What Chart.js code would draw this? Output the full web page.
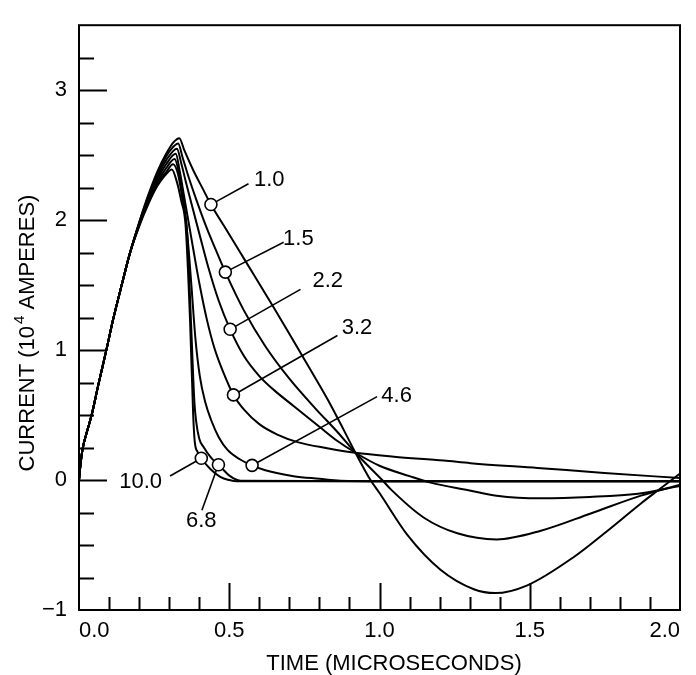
<!DOCTYPE html>
<html>
<head>
<meta charset="utf-8">
<script src="https://cdn.jsdelivr.net/npm/chart.js@4"></script>
<style>
html, body { margin: 0; padding: 0; background: #fff; }
canvas { display: block; }
</style>
</head>
<body>
<canvas id="chart" width="696" height="675"></canvas>
<script>
// curve labels (10^4 A vs microseconds)
var curve_names = ['1.0', '1.5', '2.2', '3.2', '4.6', '6.8', '10.0'];

// common rising part
var rise_time = [0, 0.004, 0.012, 0.025, 0.042, 0.065, 0.09, 0.115, 0.142, 0.17];
var rise_amps = [0, 0.1, 0.24, 0.36, 0.5, 0.74, 0.99, 1.25, 1.5, 1.75];

var time_1_0 = [0.2, 0.23, 0.26, 0.29, 0.315, 0.334, 0.35, 0.381, 0.41, 0.439, 0.492, 0.55, 0.6, 0.65, 0.714, 0.78, 0.837, 0.88, 0.92, 0.97, 1.0, 1.092, 1.203, 1.314, 1.385, 1.492, 1.648, 1.759, 1.87, 1.926, 2.0];
var amps_1_0 = [1.98, 2.19, 2.37, 2.51, 2.6, 2.63, 2.54, 2.38, 2.25, 2.12, 1.92, 1.7, 1.51, 1.32, 1.07, 0.81, 0.58, 0.39, 0.21, 0.0, -0.1, -0.42, -0.69, -0.84, -0.87, -0.81, -0.59, -0.39, -0.18, -0.08, 0.05];

var time_1_5 = [0.2, 0.23, 0.26, 0.29, 0.312, 0.33, 0.345, 0.365, 0.39, 0.42, 0.45, 0.487, 0.55, 0.62, 0.7, 0.787, 0.86, 0.92, 1.009, 1.037, 1.148, 1.259, 1.39, 1.537, 1.703, 1.87, 2.0];
var amps_1_5 = [1.98, 2.18, 2.35, 2.49, 2.56, 2.59, 2.48, 2.33, 2.16, 1.97, 1.8, 1.6, 1.3, 1.03, 0.78, 0.55, 0.37, 0.21, 0.0, -0.07, -0.29, -0.41, -0.457, -0.39, -0.257, -0.12, -0.035];

var time_2_2 = [0.2, 0.23, 0.26, 0.29, 0.326, 0.34, 0.355, 0.375, 0.4, 0.43, 0.465, 0.503, 0.55, 0.6, 0.65, 0.714, 0.8, 0.86, 0.92, 1.0, 1.1, 1.17, 1.3, 1.39, 1.537, 1.7, 1.86, 2.0];
var amps_2_2 = [1.97, 2.17, 2.33, 2.46, 2.55, 2.44, 2.3, 2.12, 1.9, 1.64, 1.38, 1.16, 0.95, 0.8, 0.69, 0.57, 0.41, 0.3, 0.21, 0.11, 0.03, -0.02, -0.08, -0.12, -0.14, -0.13, -0.105, -0.045];

var time_3_2 = [0.2, 0.23, 0.26, 0.29, 0.322, 0.335, 0.35, 0.365, 0.38, 0.4, 0.425, 0.45, 0.48, 0.514, 0.55, 0.6, 0.66, 0.73, 0.826, 0.92, 1.048, 1.214, 1.303, 1.526, 1.748, 2.0];
var amps_3_2 = [1.97, 2.16, 2.31, 2.43, 2.51, 2.38, 2.18, 1.98, 1.78, 1.52, 1.24, 1.02, 0.83, 0.655, 0.54, 0.43, 0.35, 0.29, 0.245, 0.21, 0.18, 0.15, 0.13, 0.093, 0.055, 0.015];

var time_4_6 = [0.2, 0.23, 0.26, 0.29, 0.318, 0.333, 0.348, 0.362, 0.374, 0.387, 0.402, 0.42, 0.44, 0.465, 0.495, 0.535, 0.576, 0.62, 0.714, 0.8, 0.87, 1.2, 1.6, 2.0];
var amps_4_6 = [1.96, 2.15, 2.29, 2.4, 2.47, 2.36, 2.15, 1.85, 1.5, 1.1, 0.8, 0.6, 0.46, 0.33, 0.23, 0.16, 0.113, 0.075, 0.03, 0.01, -0.005, -0.01, -0.01, -0.01];

var time_6_8 = [0.2, 0.23, 0.26, 0.29, 0.313, 0.33, 0.345, 0.36, 0.373, 0.384, 0.39, 0.4, 0.414, 0.44, 0.464, 0.503, 0.537, 1.0, 1.5, 2.0];
var amps_6_8 = [1.96, 2.14, 2.28, 2.37, 2.43, 2.35, 2.15, 1.9, 1.2, 0.6, 0.45, 0.32, 0.256, 0.17, 0.118, 0.03, -0.005, -0.01, -0.01, -0.01];

var time_10_0 = [0.2, 0.23, 0.26, 0.285, 0.309, 0.325, 0.34, 0.355, 0.37, 0.38, 0.385, 0.395, 0.407, 0.437, 0.47, 0.5, 0.526, 1.0, 1.5, 2.0];
var amps_10_0 = [1.95, 2.12, 2.26, 2.34, 2.39, 2.3, 2.15, 1.95, 1.2, 0.5, 0.3, 0.215, 0.168, 0.085, 0.025, 0.0, -0.01, -0.01, -0.01, -0.01];

// circled points on each curve (same order as curve_names)
var mark_time = [0.439, 0.487, 0.503, 0.514, 0.576, 0.464, 0.407];
var mark_amps = [2.12, 1.6, 1.16, 0.655, 0.113, 0.118, 0.168];

var x_tick_labels = ['0.0', '0.5', '1.0', '1.5', '2.0'];
var y_tick_labels = ['\u22121', '0', '1', '2', '3'];

var all_time = [time_1_0, time_1_5, time_2_2, time_3_2, time_4_6, time_6_8, time_10_0];
var all_amps = [amps_1_0, amps_1_5, amps_2_2, amps_3_2, amps_4_6, amps_6_8, amps_10_0];

var FONT = '"Liberation Sans", Arial, sans-serif';

function toPoints(ts, ys){
    var pts = [];
    for(var k=0;k<ts.length;k++){
        pts.push({x: ts[k], y: ys[k]});
    }
    return pts;
}

var datasets = [];
datasets.push({
    label: 'marks',
    data: toPoints(mark_time, mark_amps),
    showLine: false,
    pointRadius: 6,
    pointBorderWidth: 1.6,
    pointBorderColor: '#000',
    pointBackgroundColor: '#fff',
    order: -1
});
for(var i=0;i<curve_names.length;i++){
    datasets.push({
        label: curve_names[i],
        data: toPoints(rise_time.concat(all_time[i]), rise_amps.concat(all_amps[i])),
        borderColor: '#000',
        borderWidth: 2,
        pointRadius: 0,
        fill: false,
        cubicInterpolationMode: 'monotone'
    });
}

// label text spot and leader end, in data units
var notes = [
    {text: '1.0',  tx: 0.633, ty: 2.316, lx: 0.564, ly: 2.28},
    {text: '1.5',  tx: 0.730, ty: 1.866, lx: 0.681, ly: 1.83},
    {text: '2.2',  tx: 0.828, ty: 1.542, lx: 0.737, ly: 1.467},
    {text: '3.2',  tx: 0.925, ty: 1.18,  lx: 0.86,  ly: 1.112},
    {text: '4.6',  tx: 1.057, ty: 0.655, lx: 0.992, ly: 0.642},
    {text: '6.8',  tx: 0.407, ty: -0.308, lx: 0.409, ly: -0.232},
    {text: '10.0', tx: 0.205, ty: -0.008, lx: 0.303, ly: 0.031}
];

var frame = {
    id: 'frame',
    afterDraw: function(chart){
        var c = chart.ctx;
        var sx = chart.scales.x, sy = chart.scales.y;
        var a = chart.chartArea;
        c.save();
        c.strokeStyle = '#000';
        c.lineWidth = 2;
        c.strokeRect(a.left, a.top, a.right - a.left, a.bottom - a.top);

        c.beginPath();
        for(var v=1; v<20; v++){
            var px = Math.round(sx.getPixelForValue(v/10)) + 0.5;
            var len = (v % 5 == 0) ? 27 : 13;
            c.moveTo(px, a.bottom);
            c.lineTo(px, a.bottom - len);
        }
        for(var w=-3; w<14; w++){
            var py = Math.round(sy.getPixelForValue(w/4)) + 0.5;
            var l2 = (w % 4 == 0) ? 28 : 15;
            c.moveTo(a.left, py);
            c.lineTo(a.left + l2, py);
        }
        c.stroke();

        // leaders and curve labels
        c.lineWidth = 1.6;
        c.fillStyle = '#000';
        c.font = '22px ' + FONT;
        c.textAlign = 'center';
        c.textBaseline = 'middle';
        for(var n=0;n<notes.length;n++){
            var nt = notes[n];
            var idx = curve_names.indexOf(nt.text);
            var cx = sx.getPixelForValue(mark_time[idx]);
            var cy = sy.getPixelForValue(mark_amps[idx]);
            var ex = sx.getPixelForValue(nt.lx);
            var ey = sy.getPixelForValue(nt.ly);
            var d = Math.sqrt((ex-cx)*(ex-cx) + (ey-cy)*(ey-cy));
            c.beginPath();
            c.moveTo(cx + (ex-cx)*6/d, cy + (ey-cy)*6/d);
            c.lineTo(ex, ey);
            c.stroke();
            c.fillText(nt.text, sx.getPixelForValue(nt.tx), sy.getPixelForValue(nt.ty) + 1);
        }

        // axis titles
        c.fillText('TIME (MICROSECONDS)', 394, 664);

        c.translate(28, 333);
        c.rotate(-Math.PI/2);
        var p1 = 'CURRENT (10', p2 = '4', p3 = ' AMPERES)';
        c.font = '22px ' + FONT;
        var w1 = c.measureText(p1).width, w3 = c.measureText(p3).width;
        c.font = '15px ' + FONT;
        var w2 = c.measureText(p2).width + 2;
        var x0 = -(w1 + w2 + w3) / 2;
        c.textAlign = 'left';
        c.font = '22px ' + FONT;
        c.fillText(p1, x0, 0);
        c.fillText(p3, x0 + w1 + w2, 0);
        c.font = '15px ' + FONT;
        c.fillText(p2, x0 + w1 + 2, -8);
        c.restore();
    }
};

var ctx = document.getElementById('chart').getContext('2d');
var chart = new Chart(ctx, {
    type: 'line',
    data: { datasets: datasets },
    options: {
        responsive: false,
        animation: false,
        layout: { padding: { top: 11, right: 16, left: 0, bottom: 0 } },
        plugins: { legend: { display: false }, tooltip: { enabled: false } },
        scales: {
            x: {
                type: 'linear', min: 0, max: 2,
                grid: { display: false, drawTicks: false },
                border: { display: false },
                ticks: {
                    stepSize: 0.5, align: 'inner', padding: 8, color: '#000',
                    font: { family: FONT, size: 22 },
                    callback: function(v){ return x_tick_labels[Math.round(v*2)] || ''; }
                },
                afterFit: function(s){ s.height = 65; }
            },
            y: {
                type: 'linear', min: -1, max: 3.5,
                grid: { display: false, drawTicks: false },
                border: { display: false },
                ticks: {
                    stepSize: 1, padding: 12, color: '#000',
                    font: { family: FONT, size: 22 },
                    callback: function(v){ return Number.isInteger(v) ? y_tick_labels[v+1] : ''; }
                },
                afterFit: function(s){ s.width = 79; }
            }
        }
    },
    plugins: [frame]
});
</script>
</body>
</html>
